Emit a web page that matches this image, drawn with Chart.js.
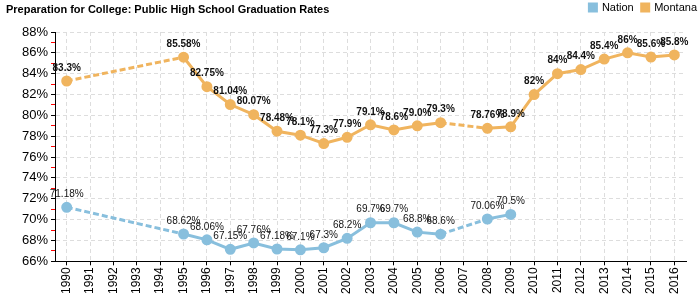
<!DOCTYPE html>
<html>
<head>
<meta charset="utf-8">
<script src="https://cdn.jsdelivr.net/npm/chart.js@4"></script>
<style>
  body { margin: 0; background: #fff; font-family: "Liberation Sans", Arial, sans-serif; }
  #wrap { position: relative; width: 700px; height: 300px; }
  #title { position: absolute; left: 6px; top: 3px; font-size: 11px; font-weight: bold; color: #000; }
</style>
</head>
<body>
<div id="wrap">
  <div id="title">Preparation for College: Public High School Graduation Rates</div>
  <canvas id="myChart" width="700" height="300"></canvas>
</div>
<script>
// jaren op de x-as
var years = ['1990', '1991', '1992', '1993', '1994', '1995', '1996', '1997', '1998', '1999', '2000', '2001', '2002',
    '2003', '2004', '2005', '2006', '2007', '2008', '2009', '2010', '2011', '2012', '2013', '2014', '2015', '2016'];

// waarden als tekst, zo blijft "79.0" in het label staan
var nation = ['71.18', null, null, null, null, '68.62', '68.06', '67.15', '67.76', '67.18', '67.1', '67.3', '68.2',
    '69.7', '69.7', '68.8', '68.6', null, '70.06', '70.5', null, null, null, null, null, null, null];
var montana = ['83.3', null, null, null, null, '85.58', '82.75', '81.04', '80.07', '78.48', '78.1', '77.3', '77.9',
    '79.1', '78.6', '79.0', '79.3', null, '78.76', '78.9', '82', '84', '84.4', '85.4', '86', '85.6', '85.8'];

var blue = '#88bfdd';
var orange = '#f0b45e';

// gestreept waar een jaar ontbreekt
function gapDash(ctx) {
    return ctx.p0.skip || ctx.p1.skip ? [6, 3] : undefined;
}

// percentages boven de punten, legenda iets naar rechtsboven
var valueLabels = {
    id: 'valueLabels',
    beforeDraw: function (chart) {
        if (chart.legend) {
            chart.legend.left += 19;
            chart.legend.right += 19;
            chart.legend.top -= 9;
            chart.legend.bottom -= 9;
        }
    },
    afterDatasetsDraw: function (chart) {
        var ctx = chart.ctx;
        chart.data.datasets.forEach(function (ds, i) {
            var meta = chart.getDatasetMeta(i);
            ctx.save();
            ctx.font = (i == 1 ? 'bold ' : '') + '10px "Liberation Sans", Arial, sans-serif';
            ctx.fillStyle = '#111';
            ctx.textAlign = 'center';
            ctx.textBaseline = 'bottom';
            meta.data.forEach(function (pt, j) {
                var v = ds.data[j];
                if (v == null) return;
                ctx.fillText(v + '%', pt.x, pt.y - 8);
            });
            ctx.restore();
        });
    }
};

var chart = new Chart(document.getElementById('myChart'), {
    type: 'line',
    data: {
        labels: years,
        datasets: [{
            label: 'Nation',
            data: nation,
            borderColor: blue,
            backgroundColor: blue,
            borderWidth: 3,
            pointRadius: 4,
            pointHoverRadius: 4,
            spanGaps: true,
            segment: { borderDash: gapDash }
        }, {
            label: 'Montana',
            data: montana,
            borderColor: orange,
            backgroundColor: orange,
            borderWidth: 3,
            pointRadius: 4,
            pointHoverRadius: 4,
            spanGaps: true,
            segment: { borderDash: gapDash }
        }]
    },
    options: {
        responsive: false,
        animation: false,
        layout: { padding: { left: 19, right: 14, bottom: 4, top: 3 } },
        plugins: {
            tooltip: { enabled: false },
            legend: {
                position: 'top',
                align: 'end',
                labels: {
                    usePointStyle: true,
                    pointStyle: 'rect',
                    boxWidth: 7,
                    boxHeight: 7,
                    padding: 8,
                    color: '#000',
                    font: { size: 11, family: '"Liberation Sans", Arial, sans-serif' }
                }
            }
        },
        scales: {
            x: {
                offset: true,
                grid: { color: '#dddddd', tickColor: '#000', tickLength: 4, offset: false },
                border: { color: '#000', dash: [4, 3] },
                ticks: {
                    color: '#000',
                    maxRotation: 90,
                    minRotation: 90,
                    autoSkip: false,
                    padding: 2,
                    font: { size: 12, family: '"Liberation Sans", Arial, sans-serif' }
                }
            },
            y: {
                min: 66,
                max: 88,
                grid: {
                    color: function (c) { return c.tick && c.tick.value % 2 ? 'rgba(0,0,0,0)' : '#dddddd'; },
                    tickColor: function (c) { return c.tick && c.tick.value % 2 ? '#ff0000' : '#000'; },
                    tickLength: 4
                },
                border: { color: '#000', dash: [4, 3] },
                ticks: {
                    stepSize: 1,
                    autoSkip: false,
                    color: '#000',
                    padding: 3,
                    font: { size: 13, family: '"Liberation Sans", Arial, sans-serif' },
                    callback: function (v) { return v % 2 ? '' : v + '%'; }
                }
            }
        }
    },
    plugins: [valueLabels]
});
</script>
</body>
</html>
